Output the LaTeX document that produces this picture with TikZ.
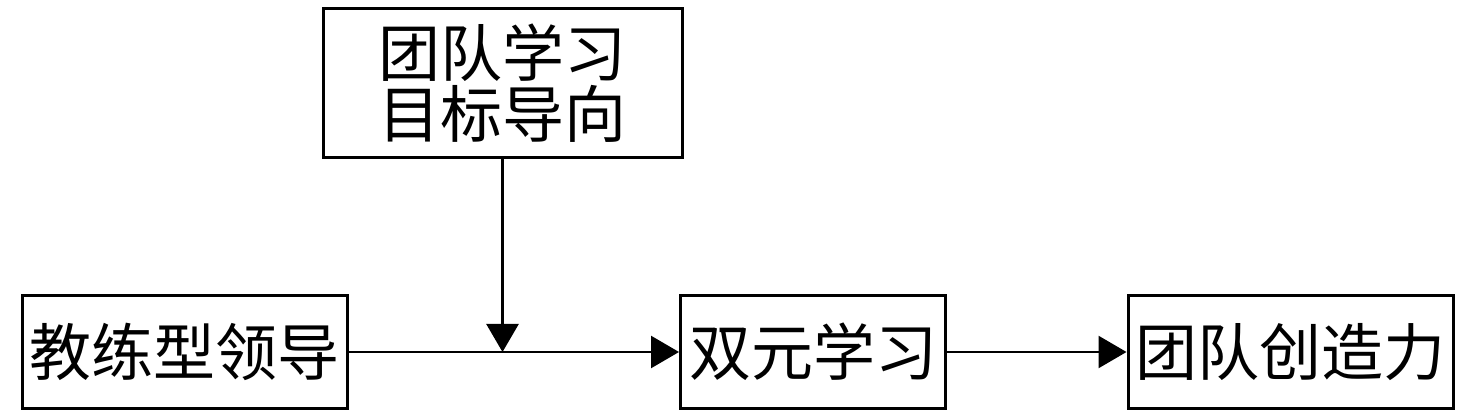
\documentclass[tikz,border=0pt]{standalone}
\usepackage{fontspec}
\setmainfont{Noto Sans CJK SC}
\usetikzlibrary{arrows.meta}
\begin{document}
\begin{tikzpicture}[x=1pt,y=-1pt,
 box/.style={draw,line width=3pt,inner sep=0pt,font=\fontsize{62}{61}\selectfont,align=center},
 conn/.style={line width=2.5pt,-{Triangle[length=28pt,width=32pt]}}]
\useasboundingbox (0,0) rectangle (1476,419);
\node[box,minimum width=359pt,minimum height=149pt] (goal) at (502.5,83) {团队学习\\目标导向};
\node[box,minimum width=325pt,minimum height=113pt] (coach) at (185,352) {教练型领导};
\node[box,minimum width=265pt,minimum height=113pt] (dual) at (813,352) {双元学习};
\node[box,minimum width=325pt,minimum height=113pt] (crea) at (1290.5,352) {团队创造力};
\coordinate (j) at (goal.south |- coach.east);
\draw[conn] (coach.east) -- (dual.west);
\draw[conn] (goal.south) -- (j);
\draw[conn] (dual.east) -- (crea.west);
\end{tikzpicture}
\end{document}
